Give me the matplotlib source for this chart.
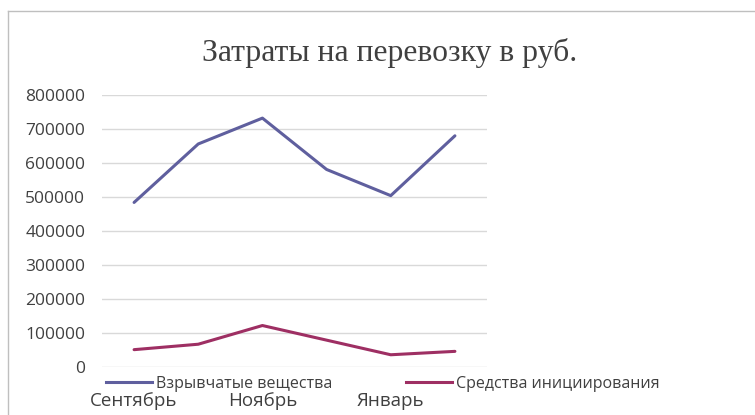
import matplotlib.pyplot as plt
from matplotlib.lines import Line2D

months = ['Сентябрь', 'Октябрь', 'Ноябрь', 'Декабрь', 'Январь', 'Февраль']
explosives = [484000, 656000, 732000, 581000, 504000, 680000]
initiators = [51000, 67000, 122000, 79000, 36000, 46000]
series_names = ['Взрывчатые вещества', 'Средства инициирования']

text_color = '#404040'
plt.rcParams['font.family'] = ['Open Sans', 'DejaVu Sans']

fig = plt.figure(figsize=(7.55, 4.15), dpi=100)
ax = fig.add_axes([102 / 755, 1 - 367 / 415, 385 / 755, 272 / 415])

x = range(len(months))
ax.plot(x, explosives, color='#5F5F9E', lw=2.2, solid_capstyle='round')
ax.plot(x, initiators, color='#9E2F63', lw=2.2, solid_capstyle='round')

ax.set_xlim(-0.5, len(months) - 0.5)
ax.set_ylim(0, 800000)
ax.set_yticks(range(0, 800001, 100000))
ax.yaxis.grid(True, color='#D9D9D9', lw=1.0)
ax.set_axisbelow(True)
for s in ax.spines.values():
    s.set_visible(False)
ax.tick_params(axis='y', length=0, pad=12, labelsize=12.5, labelcolor=text_color)

# подписи месяцев через один
ax.set_xticks(list(x))
ax.set_xticklabels([m if i % 2 == 0 else '' for i, m in enumerate(months)])
ax.tick_params(axis='x', length=0, pad=18, labelsize=13.5, labelcolor=text_color)

fig.text(390 / 755, 1 - 53 / 415, 'Затраты на перевозку в руб.', ha='center', va='center',
         family='Liberation Serif', fontsize=22.8, color=text_color)

handles = [Line2D([], [], color='#5F5F9E', lw=2.2),
           Line2D([], [], color='#9E2F63', lw=2.2)]
fig.legend(handles, series_names, loc='center left', bbox_to_anchor=(106 / 755, 1 - 384 / 415),
           ncol=2, frameon=False, fontsize=11.5, handlelength=2.85, handletextpad=0.3,
           columnspacing=4.6, labelcolor=text_color, borderaxespad=0, borderpad=0)

# рамка области диаграммы (обрезана справа и снизу)
fig.add_artist(Line2D([8 / 755, 8 / 755], [0, 1 - 11 / 415], color='#BFBFBF', lw=1))
fig.add_artist(Line2D([8 / 755, 1], [1 - 11 / 415, 1 - 11 / 415], color='#BFBFBF', lw=1))

fig.savefig('out.png', dpi=100)
